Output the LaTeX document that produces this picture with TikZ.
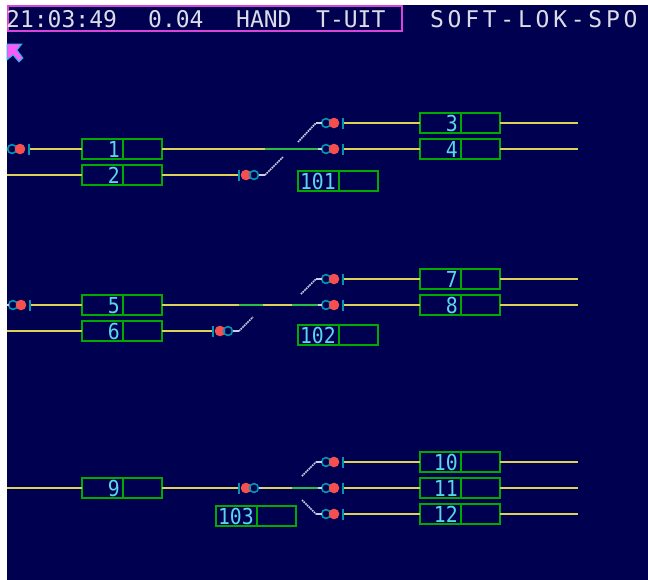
\documentclass[tikz,border=0pt]{standalone}
\usepackage{fontspec}
\newfontfamily\termfont{DejaVu Sans Mono}
\newfontfamily\numfont[FakeStretch=0.9]{DejaVu Sans Mono}
\definecolor{navy}{RGB}{0,0,80}
\definecolor{mag}{RGB}{215,70,215}
\definecolor{hdrc}{RGB}{220,220,232}
\definecolor{trk}{RGB}{220,210,90}
\definecolor{grn}{RGB}{40,190,70}
\definecolor{boxg}{RGB}{0,170,0}
\definecolor{lblc}{RGB}{90,215,230}
\definecolor{ringc}{RGB}{0,150,175}
\definecolor{sigred}{RGB}{245,80,80}
\definecolor{stubc}{RGB}{205,205,228}
\definecolor{curs}{RGB}{250,90,250}
\definecolor{cursl}{RGB}{0,200,220}
\newcommand\tbox[4]{%
  \node[tb, anchor=north west] (#1) at (#2,#3) {};
  \draw[draw=boxg,line width=2pt] ([xshift=41pt]#1.north west) -- ([xshift=41pt]#1.south west);
  \node[lbl, anchor=base east] (#1l) at ([xshift=38pt,yshift=2pt]#1.south west) {#4};
}
\newcommand\sigR[3]{%
  \coordinate (#1in) at ({#2-4.5},#3);
  \coordinate (#1out) at ({#2+18},#3);
  \draw[ringc,line width=1.6pt] (#2,#3) circle[radius=4.4pt];
  \fill[sigred] ({#2+8},#3) circle[radius=5.3pt];
  \draw[ringc,line width=1.5pt] ({#2+17},{#3-5.5}) -- ({#2+17},{#3+5.5});
}
\newcommand\sigL[3]{%
  \coordinate (#1in) at ({#2-1},#3);
  \coordinate (#1out) at ({#2+19.5},#3);
  \draw[ringc,line width=1.5pt] (#2,{#3-5.5}) -- (#2,{#3+5.5});
  \fill[sigred] ({#2+7},#3) circle[radius=5.3pt];
  \draw[ringc,line width=1.6pt] ({#2+15},#3) circle[radius=4.4pt];
}
\begin{document}
\begin{tikzpicture}[x=1pt,y=-1pt,
  track/.style={draw=trk,line width=2.7pt},
  gtrack/.style={draw=grn,line width=2.7pt},
  stub/.style={draw=stubc,line width=1.6pt},
  diag/.style={draw=stubc,line width=1.7pt,dash pattern=on 1.6pt off 0.8pt},
  tb/.style={draw=boxg,line width=2pt,minimum width=80pt,minimum height=20pt,inner sep=0pt,outer sep=0pt},
  lbl/.style={text=lblc,font=\numfont\fontsize{22}{22}\selectfont,inner sep=0pt},
  hdr/.style={text=hdrc,font=\termfont\fontsize{23}{23}\selectfont,inner sep=0pt,anchor=base west},
]
\useasboundingbox (0,0) rectangle (648,579);
\fill[white] (0,0) rectangle (648,581);
\fill[navy] (7,5) rectangle (650,581);
% header
\draw[mag,line width=2pt] (8,6) rectangle (402,31);
\node[hdr] (time) at (6,27) {21:03:49};
\node[hdr] (speed) at (148,27) {0.04};
\node[hdr] (mode) at (236,27) {HAND};
\node[hdr] (tuit) at (316,27) {T-UIT};
\foreach \c [count=\i from 0] in {S,O,F,T,-,L,O,K,-,S,P,O}
  \node[hdr,anchor=base] (t\i) at ({437+\i*17.6},27) {\c};
% cursor
\filldraw[fill=curs,draw=cursl,line width=0.8pt] (7,44) -- (22,44) -- (17,50) -- (23,58) -- (19,62) -- (13,55) -- (7,60) -- cycle;

% ===== group 1 =====
\tbox{b1}{82}{139}{1}
\tbox{b2}{82}{165}{2}
\tbox{b3}{420}{113}{3}
\tbox{b4}{420}{139}{4}
\tbox{b101}{298}{171}{101}
\sigR{s1}{12}{149}
\sigR{s3}{326}{123}
\sigR{s4}{326}{149}
\sigL{s2}{239}{175}
\coordinate (g1a) at (265,149);
\coordinate (g1b) at (318,149);
\coordinate (e3) at (578,123);
\coordinate (e4) at (578,149);
\coordinate (w2) at (7,175);
\coordinate (d1a) at (298,142);
\coordinate (d1b) at (316,123);
\coordinate (d2a) at (265,175);
\coordinate (d2b) at (283,157);
\draw[track] (s1out) -- (b1.west);
\draw[track] (b1.east) -- (g1a);
\draw[gtrack] (g1a) -- (g1b);
\draw[stub] (g1b) -- (s4in);
\draw[track] (s4out) -- (b4.west);
\draw[track] (b4.east) -- (e4);
\draw[diag] (d1a) -- (d1b);
\draw[stub] (d1b) -- (s3in);
\draw[track] (s3out) -- (b3.west);
\draw[track] (b3.east) -- (e3);
\draw[track] (w2) -- (b2.west);
\draw[track] (b2.east) -- (s2in);
\draw[stub] (s2out) -- (d2a);
\draw[diag] (d2a) -- (d2b);

% ===== group 2 =====
\tbox{b5}{82}{295}{5}
\tbox{b6}{82}{321}{6}
\tbox{b7}{420}{269}{7}
\tbox{b8}{420}{295}{8}
\tbox{b102}{298}{325}{102}
\sigR{s5}{13}{305}
\sigR{s7}{326}{279}
\sigR{s8}{326}{305}
\sigL{s6}{213}{331}
\coordinate (w5) at (7,305);
\coordinate (g2a) at (239,305);
\coordinate (g2b) at (263,305);
\coordinate (g2c) at (292,305);
\coordinate (g2d) at (318,305);
\coordinate (e7) at (578,279);
\coordinate (e8) at (578,305);
\coordinate (w6) at (7,331);
\coordinate (d3a) at (301,294);
\coordinate (d3b) at (316,279);
\coordinate (d4a) at (239,331);
\coordinate (d4b) at (253,317);
\draw[stub] (w5) -- (s5in);
\draw[track] (s5out) -- (b5.west);
\draw[track] (b5.east) -- (g2a);
\draw[gtrack] (g2a) -- (g2b);
\draw[track] (g2b) -- (g2c);
\draw[gtrack] (g2c) -- (g2d);
\draw[stub] (g2d) -- (s8in);
\draw[track] (s8out) -- (b8.west);
\draw[track] (b8.east) -- (e8);
\draw[diag] (d3a) -- (d3b);
\draw[stub] (d3b) -- (s7in);
\draw[track] (s7out) -- (b7.west);
\draw[track] (b7.east) -- (e7);
\draw[track] (w6) -- (b6.west);
\draw[track] (b6.east) -- (s6in);
\draw[stub] (s6out) -- (d4a);
\draw[diag] (d4a) -- (d4b);

% ===== group 3 =====
\tbox{b9}{82}{478}{9}
\tbox{b10}{420}{452}{10}
\tbox{b11}{420}{478}{11}
\tbox{b12}{420}{504}{12}
\tbox{b103}{216}{506}{103}
\sigL{s9}{239}{488}
\sigR{s10}{326}{462}
\sigR{s11}{326}{488}
\sigR{s12}{326}{514}
\coordinate (w9) at (7,488);
\coordinate (g3a) at (262,488);
\coordinate (g3b) at (292,488);
\coordinate (g3c) at (318,488);
\coordinate (e10) at (578,462);
\coordinate (e11) at (578,488);
\coordinate (e12) at (578,514);
\coordinate (d5a) at (302,476);
\coordinate (d5b) at (316,462);
\coordinate (d6a) at (302,500);
\coordinate (d6b) at (316,514);
\draw[track] (w9) -- (b9.west);
\draw[track] (b9.east) -- (s9in);
\draw[stub] (s9out) -- (g3a);
\draw[track] (g3a) -- (g3b);
\draw[gtrack] (g3b) -- (g3c);
\draw[stub] (g3c) -- (s11in);
\draw[track] (s11out) -- (b11.west);
\draw[track] (b11.east) -- (e11);
\draw[diag] (d5a) -- (d5b);
\draw[stub] (d5b) -- (s10in);
\draw[track] (s10out) -- (b10.west);
\draw[track] (b10.east) -- (e10);
\draw[diag] (d6a) -- (d6b);
\draw[stub] (d6b) -- (s12in);
\draw[track] (s12out) -- (b12.west);
\draw[track] (b12.east) -- (e12);
\end{tikzpicture}
\end{document}
